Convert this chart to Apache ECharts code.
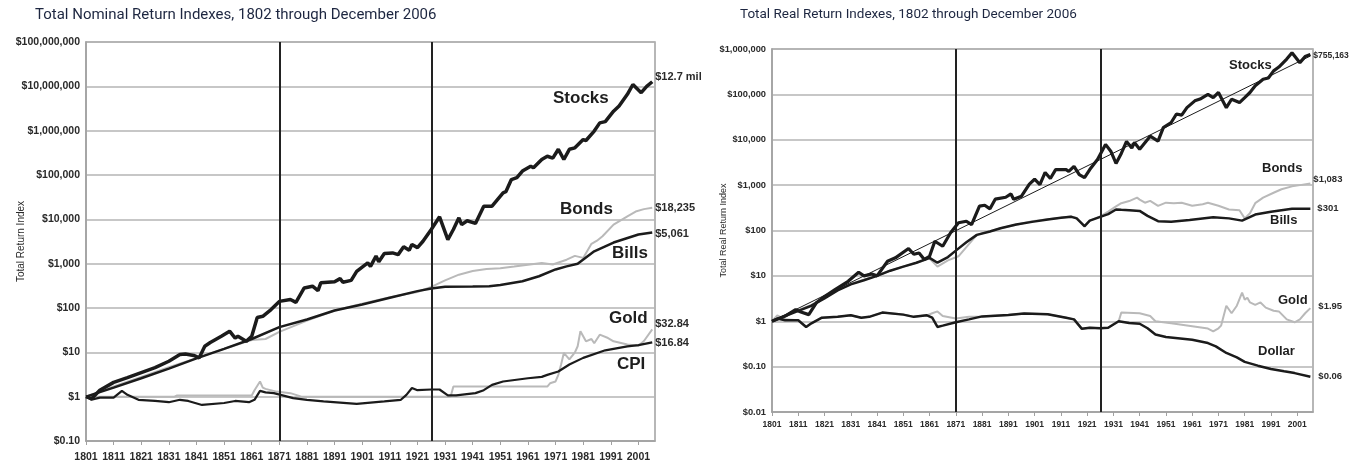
<!DOCTYPE html>
<html>
<head>
<meta charset="utf-8">
<script src="https://cdn.jsdelivr.net/npm/echarts@6/dist/echarts.min.js"></script>
<style>
html,body{margin:0;padding:0;background:#fff;}
#chart{width:1361px;height:469px;}
</style>
</head>
<body>
<div id="chart"></div>
<script>
// ---------- tick labels ----------
const xTickYears = [1801,1811,1821,1831,1841,1851,1861,1871,1881,1891,1901,1911,1921,1931,1941,1951,1961,1971,1981,1991,2001];
const eraLines = [1871, 1926];

// ---------- Nominal chart ----------
const nomStocksYears = [1801,1803,1806,1811,1816,1821,1826,1831,1835,1837,1840,1842,1844,1846,1850,1853,1855,1856,1859,1861,1863,1865,1868,1871,1875,1877,1880,1883,1885,1886,1891,1893,1894,1897,1899,1903,1904,1906,1907,1909,1912,1914,1916,1918,1919,1921,1923,1926,1929,1932,1934,1936,1937,1939,1942,1945,1948,1952,1953,1955,1957,1959,1962,1963,1966,1968,1970,1972,1974,1976,1978,1981,1982,1985,1987,1989,1991,1992,1994,1997,1999,2002,2004,2006];
const nomStocksValues = [1,0.9,1.4,2.1,2.7,3.5,4.5,6.3,8.9,9.2,8.5,7.5,13.7,16.6,23,30,21,23,17.7,23,61,65,92,141,155,134,283,310,246,370,390,460,380,420,670,1040,870,1480,1100,1700,1750,1600,2400,2000,2700,2300,3200,5900,11400,3500,5900,10800,7600,9300,8100,19800,19800,39500,42000,79000,87000,123000,158000,145000,224000,265000,240000,380000,224000,380000,410000,630000,600000,980000,1500000,1600000,2300000,2750000,3600000,6600000,11000000,7200000,10000000,12700000];

const nomBondsYears = [1801,1811,1821,1831,1841,1851,1861,1866,1871,1881,1891,1901,1911,1921,1926,1931,1936,1941,1946,1951,1956,1961,1966,1970,1975,1978,1981,1984,1986,1988,1992,1997,2000,2003,2006];
const nomBondsValues = [1,1.7,2.8,4.6,7.4,12,19,20,29,52,88,125,175,230,300,420,565,680,760,790,860,950,1030,960,1230,1500,1350,2800,3300,4150,7600,11700,15000,17000,18235];

const nomBillsYears = [1801,1811,1821,1831,1841,1851,1861,1871,1881,1891,1901,1911,1921,1926,1931,1941,1947,1951,1959,1965,1971,1975,1979,1985,1992,2001,2006];
const nomBillsValues = [1,1.6,2.6,4.3,7.3,12,20,37,55,88,120,170,240,275,300,305,310,330,400,520,740,870,1000,1900,3000,4550,5061];

const nomGoldYears = [1801,1833,1834,1861,1862,1864,1865,1866,1870,1875,1879,1933,1934,1968,1969,1971,1972,1973,1974,1976,1978,1979,1980,1982,1984,1985,1987,1990,1992,1997,2001,2003,2006];
const nomGoldValues = [1,1,1.06,1.06,1.4,2.2,1.6,1.5,1.3,1.2,1.0,1.0,1.69,1.69,2.0,2.2,3.1,5.3,9.7,6.9,10,13.7,30,17.7,20,16,25,21,17.7,15,14,18,32.84];

const nomCpiYears = [1801,1803,1806,1811,1814,1816,1820,1826,1831,1835,1838,1843,1851,1855,1860,1862,1864,1866,1869,1876,1881,1887,1899,1909,1915,1917,1919,1921,1926,1929,1932,1935,1942,1945,1948,1952,1961,1966,1968,1972,1976,1981,1989,1997,2001,2006];
const nomCpiValues = [1,0.85,0.95,0.95,1.35,1.1,0.85,0.8,0.75,0.85,0.8,0.65,0.72,0.8,0.75,0.85,1.35,1.25,1.2,0.93,0.85,0.78,0.69,0.78,0.85,1.1,1.57,1.4,1.45,1.45,1.07,1.07,1.2,1.4,1.85,2.2,2.6,2.8,3.1,3.7,5.3,7.5,11.1,13.6,14.5,16.84];

// ---------- Real chart ----------
const realStocksYears = [1801,1806,1810,1812,1815,1818,1821,1825,1830,1834,1836,1839,1841,1845,1848,1853,1855,1857,1859,1861,1863,1866,1869,1872,1875,1877,1880,1882,1884,1886,1890,1892,1893,1896,1899,1901,1903,1905,1907,1909,1913,1914,1916,1918,1920,1922,1925,1928,1930,1932,1934,1936,1938,1939,1941,1945,1948,1950,1953,1955,1957,1959,1962,1964,1967,1969,1971,1974,1976,1979,1981,1983,1985,1988,1990,1992,1994,1997,1999,2002,2004,2006];
const realStocksValues = [1,1.3,1.8,1.6,1.4,2.6,3.5,5,7.6,12,10,11,10,21,25,40,30,32,23,27,58,45,89,148,160,135,345,360,300,490,540,640,490,570,1050,1350,1030,1900,1400,2200,2200,2000,2600,1700,1470,2200,3700,7900,5600,3000,5000,9200,6600,8700,6200,12000,9300,18500,24000,37000,35000,51000,72000,79000,100000,85000,110000,51000,78000,66000,85000,110000,155000,215000,230000,330000,400000,600000,830000,500000,680000,755163];

const realTrendYears = [1801, 2006];
const realTrendValues = [1.0, 700000];

const realBondsYears = [1801,1806,1811,1816,1821,1826,1831,1836,1841,1846,1851,1856,1861,1864,1868,1872,1879,1888,1900,1906,1911,1915,1917,1920,1922,1926,1929,1932,1934,1937,1940,1941,1943,1945,1948,1951,1954,1957,1961,1965,1967,1971,1975,1979,1981,1983,1985,1988,1992,1995,1999,2002,2006];
const realBondsValues = [1,1.35,1.75,2.3,3.3,4.9,6.6,8.2,10.2,13,16,19.5,24,16,22,27,80,112,160,178,192,205,190,120,165,205,260,340,400,445,530,480,410,450,350,410,400,410,350,380,410,350,290,280,185,240,400,530,680,810,940,1000,1083];

const realBillsYears = [1801,1806,1811,1816,1821,1826,1831,1836,1841,1846,1851,1856,1861,1864,1868,1871,1875,1879,1884,1888,1894,1900,1906,1911,1915,1917,1920,1922,1926,1929,1932,1934,1937,1941,1944,1948,1953,1960,1969,1975,1980,1985,1991,1999,2006];
const realBillsValues = [1,1.3,1.7,2.2,3.2,4.8,6.5,8.0,10,13,16,19.5,25,19.5,26,36,55,80,95,112,135,155,175,190,200,185,125,165,200,230,290,285,280,270,210,160,155,170,195,185,165,225,260,300,301];

const realGoldYears = [1801,1803,1806,1811,1814,1816,1820,1826,1831,1835,1838,1843,1851,1855,1860,1862,1864,1866,1871,1876,1881,1891,1897,1906,1913,1916,1919,1922,1926,1929,1931,1933,1934,1941,1945,1947,1953,1967,1969,1971,1972,1974,1976,1978,1980,1981,1982,1983,1985,1987,1989,1992,1994,1997,2000,2002,2004,2006];
const realGoldValues = [1,1.35,1.1,1.05,0.75,0.9,1.2,1.25,1.35,1.2,1.25,1.55,1.4,1.25,1.35,1.5,1.65,1.3,1.15,1.25,1.28,1.38,1.48,1.42,1.2,1.1,0.68,0.72,0.7,0.72,0.85,1.0,1.55,1.5,1.3,1.0,0.9,0.69,0.6,0.7,0.8,2.2,1.5,2.2,4.3,3.0,3.3,2.6,2.3,2.6,2.0,1.7,1.65,1.1,0.95,1.1,1.5,1.95];

const realDollarYears = [1801,1803,1806,1811,1814,1816,1820,1826,1831,1835,1838,1843,1851,1855,1860,1862,1864,1866,1871,1876,1881,1891,1897,1906,1913,1916,1919,1922,1926,1929,1931,1933,1937,1941,1944,1947,1951,1961,1967,1970,1974,1978,1981,1986,1991,1996,2000,2006];
const realDollarValues = [1,1.15,1.05,1.05,0.75,0.9,1.2,1.25,1.35,1.2,1.25,1.55,1.4,1.25,1.35,1.2,0.75,0.8,0.95,1.1,1.28,1.38,1.48,1.42,1.2,1.1,0.68,0.72,0.7,0.72,0.85,1.0,0.92,0.88,0.7,0.51,0.45,0.39,0.33,0.28,0.2,0.16,0.127,0.105,0.089,0.079,0.072,0.06];

// ---------- helpers ----------
function zip(xs, ys){ return xs.map((x,i)=>[x, ys[i]]); }
function moneyFmt(v){
  const n = Number(Number(v).toPrecision(3));
  if (n < 1) return '$' + n.toFixed(2);
  return '$' + Math.round(n).toLocaleString('en-US');
}
const BLACK = '#1b1b1b';
const GRAY = '#b9b9b9';
const AXIS_GRAY = '#a0a0a0';

function xAxisCfg(gridIndex, fontSize, margin){
  return {
    type:'value', gridIndex, min:1801, max:2007,
    axisLine:{show:true, lineStyle:{color:AXIS_GRAY, width:1.5}},
    axisTick:{show:true, customValues:xTickYears, length:4, lineStyle:{color:AXIS_GRAY}},
    axisLabel:{customValues:xTickYears, formatter:(v)=>String(Math.round(v)),
      fontFamily:'Liberation Sans, Arial', fontWeight:'bold', fontSize, color:'#2a2a2a', margin},
    splitLine:{show:false}
  };
}
function yAxisCfg(gridIndex, min, max, fontSize, name, nameGap, nameSize){
  return {
    type:'log', logBase:10, gridIndex, min, max,
    name, nameLocation:'middle', nameGap, nameRotate:90, nameMoveOverlap:false,
    nameTextStyle:{fontFamily:'Liberation Sans, Arial', fontSize:nameSize, color:'#2a2a2a'},
    axisLine:{show:true, lineStyle:{color:AXIS_GRAY, width:1.5}},
    axisTick:{show:false},
    axisLabel:{formatter:moneyFmt, fontFamily:'Liberation Sans, Arial', fontWeight:'bold', fontSize, color:'#2a2a2a', margin:6},
    splitLine:{show:true, lineStyle:{color:'#b4b4b4', width:1.5}},
    minorTick:{show:false}, minorSplitLine:{show:false}
  };
}
function lineSeries(idx, data, color, width, z, endText, endSize, endOffset){
  const s = {
    type:'line', xAxisIndex:idx, yAxisIndex:idx, data, showSymbol:false, symbol:'none',
    lineStyle:{color, width}, z, silent:true
  };
  if (endText){
    s.endLabel = {show:true, formatter:endText, fontFamily:'Liberation Sans, Arial', fontWeight:'bold',
      fontSize:endSize, color:'#2a2a2a', distance:3, offset:endOffset||[0,0]};
  }
  return s;
}
function eraMarkLine(){
  return {silent:true, symbol:'none', label:{show:false},
    lineStyle:{color:'#222', width:2, type:'solid'},
    data: eraLines.map(y=>({xAxis:y}))};
}
function tag(text, left, top, size){
  return {type:'text', left, top, style:{text, fontFamily:'Liberation Sans, Arial', fontWeight:'bold', fontSize:size, fill:'#1e1e1e'}};
}

const nomBills = lineSeries(0, zip(nomBillsYears, nomBillsValues), BLACK, 2.5, 4, '$5,061', 11, [0,2]);
nomBills.markLine = eraMarkLine();
const realBills = lineSeries(1, zip(realBillsYears, realBillsValues), BLACK, 2.5, 4, '$301', 9.5, [4,0]);
realBills.markLine = eraMarkLine();

const option = {
  animation:false,
  backgroundColor:'#fff',
  title:[
    {text:'Total Nominal Return Indexes, 1802 through December 2006', left:30, top:3,
      textStyle:{fontFamily:'Roboto, Liberation Sans', fontWeight:'normal', fontSize:15, color:'#1d2640'}},
    {text:'Total Real Return Indexes, 1802 through December 2006', left:735, top:3,
      textStyle:{fontFamily:'Roboto, Liberation Sans', fontWeight:'normal', fontSize:13.5, color:'#1d2640'}}
  ],
  grid:[
    {left:86, top:42, width:569, height:399, show:true, borderColor:AXIS_GRAY, borderWidth:1.5, backgroundColor:'#fff'},
    {left:772, top:49, width:541, height:363, show:true, borderColor:AXIS_GRAY, borderWidth:1.5, backgroundColor:'#fff'}
  ],
  xAxis:[ xAxisCfg(0, 10.5, 11), xAxisCfg(1, 8.5, 8) ],
  yAxis:[
    yAxisCfg(0, 0.1, 1e8, 10.5, 'Total Return Index', 60, 10),
    yAxisCfg(1, 0.01, 1e6, 9.3, 'Total Real Return Index', 44, 9)
  ],
  series:[
    lineSeries(0, zip(nomGoldYears, nomGoldValues), GRAY, 2, 2, '$32.84', 11, [0,-5]),
    lineSeries(0, zip(nomBondsYears, nomBondsValues), GRAY, 2, 3, '$18,235', 11, [0,0]),
    nomBills,
    lineSeries(0, zip(nomCpiYears, nomCpiValues), BLACK, 2.2, 5, '$16.84', 11, [0,1]),
    lineSeries(0, zip(nomStocksYears, nomStocksValues), BLACK, 3.5, 6, '$12.7 mil', 11, [0,-5]),

    lineSeries(1, zip(realGoldYears, realGoldValues), GRAY, 2, 2, '$1.95', 9.5, [5,-2]),
    lineSeries(1, zip(realBondsYears, realBondsValues), GRAY, 2, 3, '$1,083', 9.5, [0,-4]),
    realBills,
    lineSeries(1, zip(realDollarYears, realDollarValues), BLACK, 2.5, 5, '$0.06', 9.5, [5,0]),
    lineSeries(1, zip(realTrendYears, realTrendValues), BLACK, 1, 6),
    lineSeries(1, zip(realStocksYears, realStocksValues), BLACK, 3.2, 7, '$755,163', 8.5, [0,1])
  ],
  graphic:[
    tag('Stocks', 553, 90, 17),
    tag('Bonds', 560, 201, 17),
    tag('Bills', 612, 245, 17),
    tag('Gold', 609, 310, 17),
    tag('CPI', 617, 356, 17),
    tag('Stocks', 1229, 59, 13),
    tag('Bonds', 1262, 162, 13),
    tag('Bills', 1270, 214, 13),
    tag('Gold', 1278, 294, 13),
    tag('Dollar', 1258, 345, 13)
  ]
};

const chart = echarts.init(document.getElementById('chart'), null, {renderer:'canvas'});
chart.setOption(option);
</script>
</body>
</html>
